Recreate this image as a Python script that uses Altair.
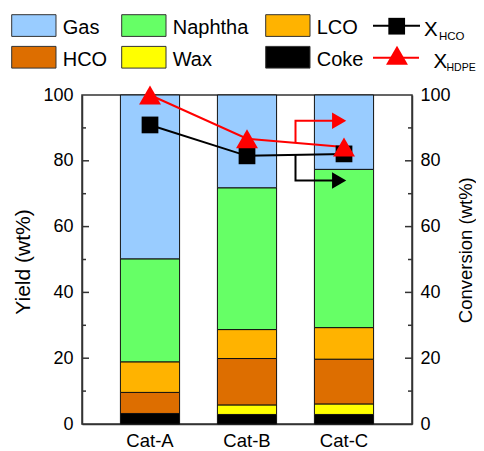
import altair as alt
import pandas as pd

# ---------------- data ----------------
CATEGORIES = ["Cat-A", "Cat-B", "Cat-C"]
COMPONENTS = ["Coke", "Wax", "HCO", "LCO", "Naphtha", "Gas"]  # bottom -> top
COKE = [3.2, 2.9, 2.9]
WAX = [0.0, 2.9, 3.2]
HCO = [6.4, 14.1, 13.6]
LCO = [9.3, 8.8, 9.6]
NAPHTHA = [31.3, 43.1, 48.1]
GAS = [49.8, 28.2, 22.6]
X_HCO = [90.9, 81.5, 82.1]
X_HDPE = [100.0, 86.7, 84.2]
COLORS = ["#000000", "#FFFF00", "#DD6E00", "#FFB300", "#66FF66", "#99CCFF"]
Y_TICKS = [0, 20, 40, 60, 80, 100]
MAJOR_TICKS = [20, 40, 60, 80]
MINOR_TICKS = [10, 30, 50, 70, 90]
# annotation arrows (x in category index units, y in %)
RED_ARROW_X = [1.5, 1.5, 1.95]
RED_ARROW_Y = [85.45, 92.2, 92.2]
BLACK_ARROW_X = [1.5, 1.5, 1.95]
BLACK_ARROW_Y = [81.8, 74.0, 74.0]
LEGEND_ROW0 = ["Gas", "Naphtha", "LCO"]
LEGEND_ROW1 = ["HCO", "Wax", "Coke"]

FONT = "Liberation Sans"
W, H = 330, 329
AX = "#333333"

series = [COKE, WAX, HCO, LCO, NAPHTHA, GAS]
rows = []
for r, (comp, vals) in enumerate(zip(COMPONENTS, series)):
    for cat, v in zip(CATEGORIES, vals):
        rows.append({"cat": cat, "comp": comp, "value": v, "rank": r})
bars_df = pd.DataFrame(rows)

lines_df = pd.DataFrame({"idx": [0, 1, 2], "hco": X_HCO, "hdpe": X_HDPE})

arrow_rows = []
for name, xs, ys in [("red", RED_ARROW_X, RED_ARROW_Y), ("black", BLACK_ARROW_X, BLACK_ARROW_Y)]:
    for i, (xv, yv) in enumerate(zip(xs, ys)):
        arrow_rows.append({"arrow": name, "o": i, "x": xv, "y": yv})
arrow_df = pd.DataFrame(arrow_rows)

yscale = alt.Scale(domain=[0, 100], nice=False, zero=False)
xq = alt.Scale(domain=[-0.701, 2.701], nice=False, zero=False)
xband = alt.Scale(domain=CATEGORIES, paddingInner=0.39, paddingOuter=0.396)
cscale = alt.Scale(domain=COMPONENTS, range=COLORS)
ascale = alt.Scale(domain=["red", "black"], range=["#FF0000", "#000000"])

bars = alt.Chart(bars_df).mark_bar(stroke="#111111", strokeWidth=1).encode(
    x=alt.X("cat:N", scale=xband, sort=CATEGORIES,
            axis=alt.Axis(labelAngle=0, labelFontSize=18.5, labelPadding=7, ticks=False,
                          domainColor=AX, domainWidth=1.5, title=None, labelColor="black",
                          labelFont=FONT)),
    y=alt.Y("value:Q", stack="zero", scale=yscale,
            axis=alt.Axis(orient="left", values=Y_TICKS, ticks=False, grid=False,
                          labelFontSize=18, labelPadding=9, labelColor="black", labelFont=FONT,
                          domainColor=AX, domainWidth=1.5,
                          title="Yield (wt%)", titleFontSize=21, titleFontWeight="normal",
                          titleFont=FONT, titleColor="black",
                          titleAngle=270, titleX=-58.7, titleY=166.5,
                          titleAlign="center", titleBaseline="middle")),
    color=alt.Color("comp:N", scale=cscale, legend=None),
    order=alt.Order("rank:Q"),
)

ticks_df_major = pd.DataFrame({"v": MAJOR_TICKS})
ticks_df_minor = pd.DataFrame({"v": MINOR_TICKS})


def tick_layer(df, x0, x1):
    return alt.Chart(df).mark_rule(color=AX, strokeWidth=1.5).encode(
        y=alt.Y("v:Q", scale=yscale, axis=None),
        x=alt.value(x0), x2=alt.value(x1))


ticks = [
    tick_layer(ticks_df_major, 0, 7), tick_layer(ticks_df_minor, 0, 4),
    tick_layer(ticks_df_major, W, W - 7), tick_layer(ticks_df_minor, W, W - 4),
]

base_lines = alt.Chart(lines_df)
hco_line = base_lines.mark_line(color="black", strokeWidth=2).encode(
    x=alt.X("idx:Q", scale=xq, axis=None),
    y=alt.Y("hco:Q", scale=yscale,
            axis=alt.Axis(orient="right", values=Y_TICKS, ticks=False, grid=False,
                          labelFontSize=18, labelPadding=8, labelColor="black", labelFont=FONT,
                          domainColor=AX, domainWidth=1.5,
                          title="Conversion (wt%)", titleFontSize=18.5, titleFontWeight="normal",
                          titleFont=FONT, titleColor="black",
                          titleAngle=270, titleX=53.8, titleY=154.7,
                          titleAlign="center", titleBaseline="middle")),
)
hdpe_line = base_lines.mark_line(color="#FF0000", strokeWidth=2).encode(
    x=alt.X("idx:Q", scale=xq, axis=None),
    y=alt.Y("hdpe:Q", scale=yscale, axis=None),
)
hco_pts = base_lines.mark_point(shape="square", filled=True, size=280, color="black", opacity=1).encode(
    x=alt.X("idx:Q", scale=xq, axis=None),
    y=alt.Y("hco:Q", scale=yscale, axis=None),
)
hdpe_pts = base_lines.mark_point(shape="triangle-up", filled=True, size=480, color="#FF0000", opacity=1).encode(
    x=alt.X("idx:Q", scale=xq, axis=None),
    y=alt.Y("hdpe:Q", scale=yscale, axis=None),
)

arrow_lines = alt.Chart(arrow_df).mark_line(strokeWidth=2, strokeJoin="miter").encode(
    x=alt.X("x:Q", scale=xq, axis=None),
    y=alt.Y("y:Q", scale=yscale, axis=None),
    detail="arrow:N",
    order="o:Q",
    color=alt.Color("arrow:N", scale=ascale, legend=None),
)
arrow_heads = alt.Chart(arrow_df).transform_filter("datum.o == 2").mark_point(
    shape="triangle-right", filled=True, size=270, opacity=1).encode(
    x=alt.X("x:Q", scale=xq, axis=None),
    y=alt.Y("y:Q", scale=yscale, axis=None),
    color=alt.Color("arrow:N", scale=ascale, legend=None),
)

# ---------------- custom legend ----------------
col_x = [-70.3, 39.7, 183.7]
row_top = [-80.3, -48.6]
sw_w, sw_h = 44.3, 21.7
text_base = [-61.0, -29.5]
leg_rows = []
for r, names in enumerate([LEGEND_ROW0, LEGEND_ROW1]):
    for c, nm in enumerate(names):
        leg_rows.append({"comp": nm, "x0": col_x[c], "x1": col_x[c] + sw_w,
                         "y0": row_top[r], "y1": row_top[r] + sw_h,
                         "tx": col_x[c] + 51, "ty": text_base[r]})
leg_df = pd.DataFrame(leg_rows)

leg_rect = alt.Chart(leg_df).mark_rect(stroke="#333333", strokeWidth=1).encode(
    x=alt.X("x0:Q", scale=None, axis=None), x2="x1:Q",
    y=alt.Y("y0:Q", scale=None, axis=None), y2="y1:Q",
    color=alt.Color("comp:N", scale=cscale, legend=None),
)
leg_text = alt.Chart(leg_df).mark_text(align="left", baseline="alphabetic", fontSize=20, font=FONT,
                                        color="black").encode(
    x=alt.X("tx:Q", scale=None, axis=None),
    y=alt.Y("ty:Q", scale=None, axis=None),
    text="comp:N",
)

one = pd.DataFrame({"a": [0]})
leg_hco_line = alt.Chart(one).mark_rule(color="black", strokeWidth=2).encode(
    x=alt.value(291), x2=alt.value(338), y=alt.value(-69.3))
leg_hco_pt = alt.Chart(one).mark_point(shape="square", filled=True, size=280, color="black", opacity=1).encode(
    x=alt.value(314.7), y=alt.value(-68.8))
leg_hdpe_line = alt.Chart(one).mark_rule(color="#FF0000", strokeWidth=2).encode(
    x=alt.value(291), x2=alt.value(337), y=alt.value(-37.2))
leg_hdpe_pt = alt.Chart(one).mark_point(shape="triangle-up", filled=True, size=480, color="#FF0000", opacity=1).encode(
    x=alt.value(315), y=alt.value(-39.8))


def txt(s, x, y, size):
    return alt.Chart(one).mark_text(text=s, align="left", baseline="alphabetic", fontSize=size,
                                    font=FONT, color="black").encode(x=alt.value(x), y=alt.value(y))


leg_x1 = txt("X", 342, -58.6, 20.5)
leg_x1s = txt("HCO", 357, -54.6, 11.5)
leg_x2 = txt("X", 351.5, -27.0, 20.5)
leg_x2s = txt("HDPE", 364.5, -23.6, 10.5)

chart = alt.layer(
    bars, *ticks, hco_line, hdpe_line, arrow_lines, arrow_heads, hco_pts, hdpe_pts,
    leg_rect, leg_text, leg_hco_line, leg_hco_pt, leg_hdpe_line, leg_hdpe_pt,
    leg_x1, leg_x1s, leg_x2, leg_x2s,
).resolve_scale(x="independent", y="independent", color="independent").resolve_axis(
    x="independent", y="independent"
).properties(
    width=W, height=H,
    padding={"left": 74, "top": 87, "right": 64, "bottom": 27},
    autosize=alt.AutoSizeParams(type="none"),
).configure(font=FONT).configure_view(stroke=AX, strokeWidth=1.5)

chart.save("out.html", embed_options={"renderer": "svg", "actions": False})
